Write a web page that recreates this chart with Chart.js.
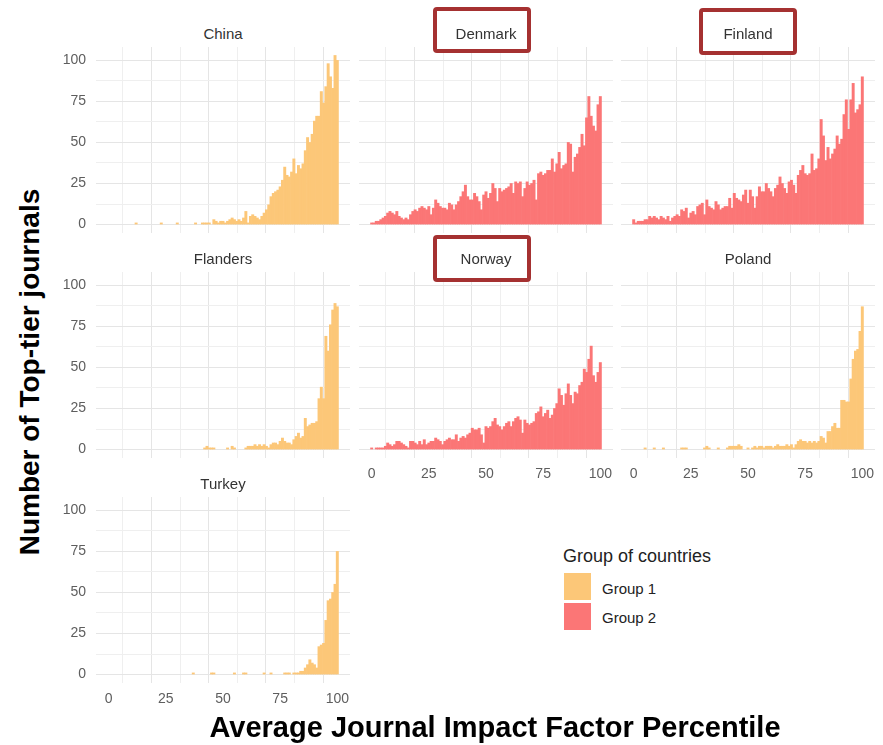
<!DOCTYPE html>
<html>
<head>
<meta charset="utf-8">
<script src="https://cdn.jsdelivr.net/npm/chart.js@4.4.1/dist/chart.umd.min.js"></script>
<style>
    body { margin: 0; background: #fff; }
    #wrap { position: relative; width: 883px; height: 745px; overflow: hidden; font-family: "Liberation Sans", Arial, sans-serif; }
    canvas { position: absolute; }
    .ptitle { position: absolute; width: 254px; text-align: center; font-size: 15px; line-height: 15px; color: #333; }
    .box { position: absolute; box-sizing: border-box; border: 4px solid #a53131; border-radius: 4px; background: #fff; }
    .axtitle { position: absolute; font-weight: bold; color: #000; white-space: nowrap; text-align: center; }
    .swatch { position: absolute; width: 27px; height: 27px; }
    .leg { position: absolute; color: #222; white-space: nowrap; }
</style>
</head>
<body>
<div id="wrap"></div>
<script>
// percentile bins 0..100
const percentiles = [
    0,1,2,3,4,5,6,7,8,9,10,11,12,13,14,15,16,17,18,19,20,21,22,23,24,25,26,27,28,29,
    30,31,32,33,34,35,36,37,38,39,40,41,42,43,44,45,46,47,48,49,50,51,52,53,54,55,56,57,58,59,
    60,61,62,63,64,65,66,67,68,69,70,71,72,73,74,75,76,77,78,79,80,81,82,83,84,85,86,87,88,89,
    90,91,92,93,94,95,96,97,98,99,100
];
const xTickLabels = [0, 25, 50, 75, 100];
const yTickLabels = [0, 25, 50, 75, 100];
const gridSteps = [0, 12.5, 25, 37.5, 50, 62.5, 75, 87.5, 100];

const groupNames = ['Group 1', 'Group 2'];
const groupColours = ['#fcc778', '#fb7676'];

const china = [
    0,0,0,0,0,0,0,0,0,0,
    0,0,1,0,0,0,0,0,0,0,
    0,0,0,1,0,0,0,0,0,0,
    1,0,0,0,0,0,0,0,1,0,
    0,1,1,1,1,0,3,2,1,2,
    2,1,2,3,4,3,2,3,2,4,
    8,1,5,6,5,4,3,5,7,9,
    12,17,19,20,21,23,27,35,30,29,
    32,40,31,36,34,37,45,53,50,55,
    63,66,66,81,74,84,98,90,83,103,
    100
];
const denmark = [
    1,1,2,2,3,4,5,7,8,7,
    6,8,5,4,3,4,3,6,8,9,
    8,10,11,10,9,11,6,10,15,13,
    11,10,10,9,13,12,9,12,14,17,
    20,24,17,15,15,19,17,14,9,18,
    20,16,19,25,22,14,22,20,21,22,
    23,25,19,26,25,26,17,22,26,24,
    25,27,15,31,32,30,31,33,33,40,
    32,37,44,34,36,37,50,49,32,41,
    43,47,55,48,65,78,66,60,57,73,
    78
];
const finland = [
    3,1,2,2,2,3,3,5,4,5,
    4,3,5,4,3,5,2,4,5,6,
    5,9,8,10,4,7,8,6,11,12,
    13,6,15,11,10,9,14,12,9,10,
    11,11,16,10,19,16,15,14,18,21,
    13,21,17,10,17,23,20,20,25,22,
    20,17,22,24,29,25,22,19,26,27,
    24,19,30,33,36,31,30,31,43,33,
    34,40,64,54,39,47,40,43,46,54,
    49,52,67,76,58,76,86,68,70,73,
    90
];
const flanders = [
    0,0,0,0,0,0,0,0,0,0,
    0,0,0,0,0,0,0,0,0,0,
    0,0,0,0,0,0,0,0,0,0,
    0,0,0,0,0,0,0,0,0,0,
    0,0,1,2,1,1,1,0,0,0,
    0,0,1,0,2,1,0,0,0,0,
    1,2,2,2,3,2,3,2,3,2,
    1,3,4,4,3,5,7,5,4,4,
    3,6,8,10,7,8,19,14,15,16,
    16,17,31,38,31,69,60,76,85,89,
    87
];
const norway = [
    1,0,1,1,1,1,2,4,3,2,
    3,5,5,4,3,2,1,5,5,4,
    3,5,3,6,3,4,5,5,7,6,
    5,3,5,6,7,6,6,9,5,7,
    8,7,9,10,13,12,12,13,9,4,
    14,13,14,17,19,15,14,12,14,16,
    17,14,17,19,20,18,10,18,16,15,
    16,17,22,23,26,20,22,24,19,21,
    25,28,37,33,27,34,40,33,28,35,
    34,39,41,49,47,55,63,45,41,47,
    53
];
const poland = [
    0,0,0,0,0,1,0,0,0,1,
    0,0,0,1,0,0,0,0,0,0,
    0,1,1,1,0,0,0,0,0,0,
    0,1,2,1,0,0,0,1,0,0,
    0,1,2,2,2,2,3,2,0,0,
    1,0,1,2,1,2,2,1,2,2,
    2,1,2,3,2,2,2,3,2,3,
    1,3,5,6,5,5,4,5,4,5,
    4,5,8,7,4,11,11,14,16,13,
    13,30,30,29,29,43,55,60,61,72,
    87
];
const turkey = [
    0,0,0,0,0,0,0,0,0,0,
    0,0,0,0,0,0,0,0,0,0,
    0,0,0,0,0,0,0,0,0,0,
    0,0,0,0,0,0,0,1,0,0,
    0,0,0,0,0,1,1,0,0,0,
    0,0,0,0,0,1,0,0,0,1,
    1,0,0,0,0,0,0,0,1,0,
    0,1,0,0,0,0,0,1,1,1,
    0,1,1,1,2,2,4,6,9,7,
    6,4,17,18,19,33,45,46,50,55,
    75
];

const panels = [
    { name: 'China',    values: china,    group: 0, col: 0, row: 0, xLabels: false, boxed: false },
    { name: 'Denmark',  values: denmark,  group: 1, col: 1, row: 0, xLabels: false, boxed: true },
    { name: 'Finland',  values: finland,  group: 1, col: 2, row: 0, xLabels: false, boxed: true },
    { name: 'Flanders', values: flanders, group: 0, col: 0, row: 1, xLabels: false, boxed: false },
    { name: 'Norway',   values: norway,   group: 1, col: 1, row: 1, xLabels: true,  boxed: true },
    { name: 'Poland',   values: poland,   group: 0, col: 2, row: 1, xLabels: true,  boxed: false },
    { name: 'Turkey',   values: turkey,   group: 0, col: 0, row: 2, xLabels: true,  boxed: false }
];

const colLeft = [96, 359, 621];
const rowTop = [47, 272, 497];
const plotW = 254, plotH = 186;
const yAxisW = 40, xAxisH = 30;

const wrap = document.getElementById('wrap');

function gridColour(ctx, majors) {
    if (!ctx.tick) return '#ebebeb';
    return majors.includes(ctx.tick.value) ? '#e5e5e5' : '#efefef';
}

// fixed axis sizes, and no extra label padding, so every panel lines up
function fitX(s) {
    s.height = xAxisH;
    s.paddingLeft = s.paddingRight = s.paddingTop = s.paddingBottom = 0;
}
function fitY(s) {
    s.width = yAxisW;
    s.paddingLeft = s.paddingRight = s.paddingTop = s.paddingBottom = 0;
}

function addPanel(p) {
    const canvas = document.createElement('canvas');
    canvas.width = yAxisW + plotW;
    canvas.height = plotH + xAxisH;
    canvas.style.left = (colLeft[p.col] - yAxisW) + 'px';
    canvas.style.top = rowTop[p.row] + 'px';
    wrap.appendChild(canvas);

    const points = p.values.map(function (v, i) {
        return { x: percentiles[i], y: v === 0 ? null : v };
    });

    new Chart(canvas.getContext('2d'), {
        type: 'bar',
        data: {
            datasets: [{
                label: groupNames[p.group],
                data: points,
                backgroundColor: groupColours[p.group],
                borderWidth: 0,
                barPercentage: 1,
                categoryPercentage: 1
            }]
        },
        options: {
            responsive: false,
            animation: false,
            layout: { padding: 0 },
            plugins: {
                legend: { display: false },
                tooltip: { enabled: false }
            },
            scales: {
                x: {
                    type: 'linear',
                    min: -5.55,
                    max: 105.55,
                    offset: false,
                    afterBuildTicks: function (s) { s.ticks = gridSteps.map(v => ({ value: v })); },
                    afterFit: fitX,
                    grid: { color: ctx => gridColour(ctx, xTickLabels), drawTicks: false, lineWidth: 1 },
                    border: { display: false },
                    ticks: {
                        autoSkip: false,
                        maxRotation: 0,
                        padding: 8,
                        color: '#5e5e5e',
                        font: { family: 'Liberation Sans', size: 14 },
                        callback: v => (p.xLabels && xTickLabels.includes(v)) ? String(v) : ''
                    }
                },
                y: {
                    min: -5.15,
                    max: 108.15,
                    afterBuildTicks: function (s) { s.ticks = gridSteps.map(v => ({ value: v })); },
                    afterFit: fitY,
                    grid: { color: ctx => gridColour(ctx, yTickLabels), drawTicks: false, lineWidth: 1 },
                    border: { display: false },
                    ticks: {
                        autoSkip: false,
                        padding: 10,
                        color: '#5e5e5e',
                        font: { family: 'Liberation Sans', size: 14 },
                        callback: v => (p.col === 0 && yTickLabels.includes(v)) ? String(v) : ''
                    }
                }
            }
        }
    });
}

panels.forEach(addPanel);

// red highlight boxes round some facet titles
const boxes = { Denmark: [433, 7, 98, 46], Finland: [699, 8, 98, 47], Norway: [433, 235, 98, 47] };
const titleTop = [26, 251, 476];

panels.forEach(function (p) {
    if (p.boxed) {
        const b = boxes[p.name];
        const d = document.createElement('div');
        d.className = 'box';
        d.style.left = b[0] + 'px';
        d.style.top = b[1] + 'px';
        d.style.width = b[2] + 'px';
        d.style.height = b[3] + 'px';
        wrap.appendChild(d);
    }
    const t = document.createElement('div');
    t.className = 'ptitle';
    t.textContent = p.name;
    t.style.left = colLeft[p.col] + 'px';
    t.style.top = titleTop[p.row] + 'px';
    wrap.appendChild(t);
});

// axis titles
const xt = document.createElement('div');
xt.className = 'axtitle';
xt.textContent = 'Average Journal Impact Factor Percentile';
xt.style.cssText = 'left:95px;width:800px;top:713px;font-size:29px;line-height:29px;';
wrap.appendChild(xt);

const yt = document.createElement('div');
yt.className = 'axtitle';
yt.textContent = 'Number of Top-tier journals';
yt.style.cssText = 'left:-170px;width:400px;top:358px;height:28px;font-size:28px;line-height:28px;transform:rotate(-90deg);';
wrap.appendChild(yt);

// legend
const lt = document.createElement('div');
lt.className = 'leg';
lt.textContent = 'Group of countries';
lt.style.cssText = 'left:563px;top:547px;font-size:18px;line-height:18px;';
wrap.appendChild(lt);

groupNames.forEach(function (g, i) {
    const s = document.createElement('div');
    s.className = 'swatch';
    s.style.left = '564px';
    s.style.top = (573 + i * 30) + 'px';
    s.style.background = groupColours[i];
    wrap.appendChild(s);
    const l = document.createElement('div');
    l.className = 'leg';
    l.textContent = g;
    l.style.cssText = 'left:602px;top:' + (581 + i * 29) + 'px;font-size:15px;line-height:15px;';
    wrap.appendChild(l);
});
</script>
</body>
</html>
